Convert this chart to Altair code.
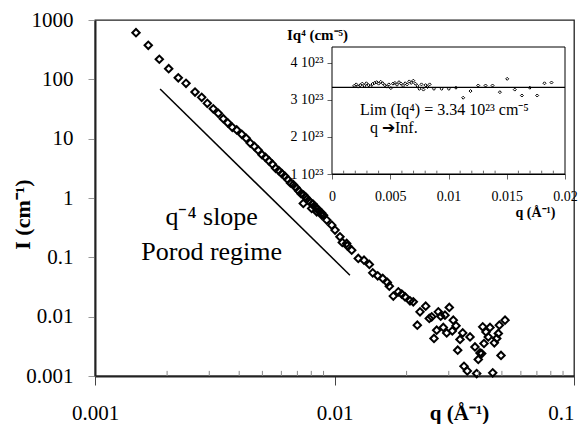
import altair as alt
import pandas as pd

# ---------------- main chart data (q in 1/Angstrom, I in 1/cm) ----------------
q_dense = [0.001483, 0.001669, 0.001856, 0.002031, 0.002227, 0.002399, 0.002616, 0.002789,
           0.002944, 0.003118, 0.003272, 0.003434, 0.003582, 0.003744, 0.003905, 0.00410,
           0.00428, 0.00445, 0.00463, 0.00480, 0.00498, 0.00515, 0.00533, 0.00550, 0.00568,
           0.00585, 0.00603, 0.00620, 0.00638, 0.00655, 0.00673, 0.00690, 0.00708, 0.00725,
           0.00743, 0.00760, 0.00778, 0.00795, 0.00813, 0.00830, 0.00848, 0.00865, 0.00883, 0.00900]
I_dense = [611, 375, 218, 151, 106, 85.6, 61.1, 49.7, 39.4, 31.9, 26.7, 21.7, 18.5, 15.5, 14.0,
           11.85, 10.13, 8.42, 7.40, 6.40, 5.37, 4.83, 4.21, 3.72, 3.17, 2.90, 2.57, 2.33, 2.05,
           1.79, 1.68, 1.50, 1.33, 1.18, 1.12, 1.02, 0.90, 0.84, 0.79, 0.70, 0.66, 0.59, 0.56, 0.51]

q_sparse = [0.00741, 0.00803, 0.00843, 0.00885, 0.00928, 0.00974, 0.01005, 0.01054, 0.01078,
            0.01124, 0.01131, 0.0118, 0.01257, 0.01328, 0.01398, 0.01444, 0.01515, 0.0159,
            0.01662, 0.01694, 0.0176, 0.01847, 0.01909, 0.0197, 0.02066, 0.02133, 0.02217,
            0.02275, 0.02403, 0.02488, 0.02546, 0.02603, 0.02671, 0.02713, 0.02776, 0.02893,
            0.02846, 0.02941, 0.03015, 0.03133, 0.03216, 0.03103, 0.03269, 0.03342, 0.0343,
            0.03473, 0.03585, 0.0368, 0.03859, 0.03923, 0.03984, 0.0405, 0.04157, 0.04209,
            0.04291, 0.04386, 0.04459, 0.04577, 0.04649, 0.04757, 0.04878, 0.04831, 0.04957,
            0.05152, 0.04117]
I_sparse = [0.811, 0.668, 0.585, 0.515, 0.424, 0.349, 0.2876, 0.2216, 0.1783, 0.1716, 0.1563,
            0.1322, 0.0958, 0.0897, 0.0759, 0.0548, 0.0488, 0.0441, 0.0377, 0.0327, 0.0222,
            0.0262, 0.0240, 0.0216, 0.0185, 0.0178, 0.00719, 0.01205, 0.01504, 0.00933, 0.00992,
            0.00429, 0.00592, 0.01205, 0.0102, 0.0106, 0.00657, 0.00533, 0.01429, 0.00873,
            0.0070, 0.00576, 0.00272, 0.00413, 0.00533, 0.00146, 0.00122, 0.00456, 0.00309,
            0.0011, 0.0019, 0.00245, 0.00673, 0.00353, 0.00554, 0.00456, 0.00657, 0.00113,
            0.00362, 0.00429, 0.00719, 0.00521, 0.00222, 0.00873, 0.00239]

# q^-4 guide line
q_line = [0.00187, 0.0116]
I_line = [68.6, 0.050]

# main annotations (anchors in data units)
ann_text = ["q\u207b\u2074 slope", "Porod regime"]
ann_q = [0.00307, 0.00307]
ann_I = [0.349, 0.0897]

# main axes
x_ticks = [0.001, 0.01, 0.1]
y_ticks = [0.001, 0.01, 0.1, 1, 10, 100, 1000]
x_minor = [0.002, 0.003, 0.004, 0.005, 0.006, 0.007, 0.008, 0.009,
           0.02, 0.03, 0.04, 0.05, 0.06, 0.07, 0.08, 0.09]

# ---------------- inset data (Iq^4 in units of 1e23 cm^-5) ----------------
q_in = [0.00190, 0.00208, 0.00225, 0.00243, 0.00260, 0.00278, 0.00295, 0.00313, 0.00330,
        0.00348, 0.00365, 0.00383, 0.00400, 0.00418, 0.00435, 0.00453, 0.00470, 0.00488,
        0.00505, 0.00523, 0.00540, 0.00558, 0.00575, 0.00593, 0.00610, 0.00628, 0.00645,
        0.00663, 0.00680, 0.00698, 0.00715, 0.00733, 0.00750, 0.00768, 0.00785, 0.00803,
        0.00820, 0.00838,
        0.00875, 0.00941, 0.01003, 0.01064, 0.01126, 0.01189, 0.01255, 0.01318, 0.01378,
        0.01441, 0.01504, 0.01569, 0.0163, 0.01698, 0.01761, 0.01824, 0.01884]
iq4_in = [3.38, 3.42, 3.36, 3.40, 3.44, 3.38, 3.45, 3.40, 3.37, 3.43, 3.46, 3.48, 3.44, 3.49,
          3.45, 3.40, 3.36, 3.42, 3.32, 3.44, 3.46, 3.41, 3.48, 3.44, 3.38, 3.45, 3.42, 3.50,
          3.46, 3.52, 3.44, 3.38, 3.30, 3.42, 3.28, 3.40, 3.35, 3.42,
          3.30, 3.30, 3.30, 3.33, 3.06, 3.24, 3.39, 3.39, 3.39, 3.21, 3.57, 3.28, 3.12, 3.33,
          3.12, 3.45, 3.47]
lim_value = 3.34
in_x_domain = [0, 0.02]
in_y_domain = [1, 4.43]
in_x_ticks = [0, 0.005, 0.01, 0.015, 0.02]
in_y_ticks = [1, 2, 3, 4]
in_x_minor = [0.001, 0.002, 0.003, 0.004, 0.006, 0.007, 0.008, 0.009,
              0.011, 0.012, 0.013, 0.014, 0.016, 0.017, 0.018, 0.019]
in_text = ["Lim  (Iq\u2074) = 3.34 10\u00b2\u00b3 cm\u207b\u2075", "q \u2794Inf."]
in_text_q = [0.0024, 0.00326]
in_text_v = [2.587, 2.10]

FONT = "Liberation Serif"

# ---------------- main layer ----------------
df_main = pd.DataFrame({"q": q_dense + q_sparse, "I": I_dense + I_sparse})
df_line = pd.DataFrame({"q": q_line, "I": I_line})
df_ann = pd.DataFrame({"q": ann_q, "I": ann_I, "t": ann_text})
df_minor = pd.DataFrame({"q": x_minor, "I": [0.001] * len(x_minor), "I1": [0.00122] * len(x_minor)})

xs = alt.Scale(type="log", domain=[0.001, 0.1], nice=False)
ys = alt.Scale(type="log", domain=[0.001, 1000], nice=False)

x_axis = alt.Axis(values=x_ticks, format="~g", labelFontSize=21, labelFont=FONT, labelColor="black",
                  labelAlign={"condition": {"test": "datum.value > 0.05", "value": "right"},
                              "value": "center"},
                  tickSize=9, labelPadding=17, tickColor="#444", domainColor="#222", domainWidth=2,
                  labelFlush=False, labelOverlap=False, grid=False,
                  title="q (\u00c5\u207b\u00b9)", titleFont=FONT, titleFontSize=21, titleFontWeight="bold",
                  titleColor="black", titleX=364, titleY=43, titleAlign="center", titleBaseline="alphabetic")
y_axis = alt.Axis(values=y_ticks, format="~g", labelFontSize=21, labelFont=FONT, labelColor="black",
                  tickSize=7, labelPadding=15, tickColor="#999", domainColor="#222", domainWidth=2,
                  labelOverlap=False, grid=False,
                  title="I (cm\u207b\u00b9)", titleFont=FONT, titleFontSize=22, titleFontWeight="bold",
                  titleColor="black", titleAngle=270, titleX=-73, titleY=194, titleAlign="center",
                  titleBaseline="middle")

pts = alt.Chart(df_main).mark_point(shape="diamond", filled=False, color="black", size=55,
                                     strokeWidth=2, opacity=1).encode(
    x=alt.X("q:Q", scale=xs, axis=x_axis),
    y=alt.Y("I:Q", scale=ys, axis=y_axis))
line = alt.Chart(df_line).mark_line(color="black", strokeWidth=1.5).encode(
    x="q:Q", y="I:Q")
ann = alt.Chart(df_ann).mark_text(font=FONT, fontSize=26, color="black", align="center",
                                  baseline="alphabetic").encode(
    x="q:Q", y="I:Q", text="t:N")
minor = alt.Chart(df_minor).mark_rule(color="#888", strokeWidth=1).encode(
    x="q:Q", y="I:Q", y2="I1:Q")

main = alt.layer(pts, line, ann, minor)

# ---------------- inset layer ----------------
df_in = pd.DataFrame({"qi": q_in, "v": iq4_in})
df_frame = pd.DataFrame({"qi": [in_x_domain[0]], "qi2": [in_x_domain[1]],
                         "v": [in_y_domain[0]], "v2": [in_y_domain[1]]})
df_lim = pd.DataFrame({"qi": [in_x_domain[0]], "qi2": [in_x_domain[1]], "v": [lim_value]})
df_in_minor = pd.DataFrame({"qi": in_x_minor, "v": [1.0] * len(in_x_minor), "v2": [1.09] * len(in_x_minor)})
df_in_text = pd.DataFrame({"qi": in_text_q, "v": in_text_v, "t": in_text})

xis = alt.Scale(domain=in_x_domain, range=[237, 470], nice=False, zero=False)
yis = alt.Scale(domain=in_y_domain, range=[154, 27], nice=False, zero=False)

xi_axis = alt.Axis(orient="bottom", offset=-202, values=in_x_ticks, format="~g", labelFontSize=14,
                   labelFont=FONT, labelColor="black", tickSize=5, labelPadding=10, tickColor="#666",
                   domainColor="black", domainWidth=1, labelFlush=False, labelOverlap=False, grid=False,
                   title="q (\u00c5\u207b\u00b9)", titleFont=FONT, titleFontSize=14, titleFontWeight="bold",
                   titleColor="black", titleX=440, titleY=42, titleAlign="center",
                   titleBaseline="alphabetic")
yi_axis = alt.Axis(orient="left", offset=-237, values=in_y_ticks,
                   labelExpr="datum.value + ' 10\u00b2\u00b3'", labelFontSize=14, labelFont=FONT,
                   labelColor="black", tickSize=5, labelPadding=4, tickColor="#666",
                   domainColor="black", domainWidth=1, labelOverlap=False, grid=False,
                   title="Iq\u2074 (cm\u207b\u2075)", titleFont=FONT, titleFontSize=15,
                   titleFontWeight="bold", titleColor="black", titleAngle=0, titleX=-15, titleY=14,
                   titleAlign="center", titleBaseline="middle")

frame = alt.Chart(df_frame).mark_rect(fill="white", stroke="black", strokeWidth=1).encode(
    x=alt.X("qi:Q", scale=xis, axis=xi_axis), x2="qi2:Q",
    y=alt.Y("v:Q", scale=yis, axis=yi_axis), y2="v2:Q")
lim = alt.Chart(df_lim).mark_rule(color="black", strokeWidth=1.3).encode(
    x="qi:Q", x2="qi2:Q", y="v:Q")
in_minor = alt.Chart(df_in_minor).mark_rule(color="#666", strokeWidth=1).encode(
    x="qi:Q", y="v:Q", y2="v2:Q")
in_pts = alt.Chart(df_in).mark_point(shape="diamond", filled=False, color="black", size=9,
                                     strokeWidth=1, opacity=1).encode(
    x="qi:Q", y="v:Q")
in_txt = alt.Chart(df_in_text).mark_text(font=FONT, fontSize=16, color="black", align="left",
                                         baseline="alphabetic").encode(
    x="qi:Q", y="v:Q", text="t:N")

inset = alt.layer(frame, lim, in_minor, in_pts, in_txt)

chart = alt.layer(main, inset).resolve_scale(
    x="independent", y="independent"
).resolve_axis(
    x="independent", y="independent"
).properties(
    width=479, height=356,
    padding={"left": 87, "top": 12, "right": 6, "bottom": 48},
    autosize=alt.AutoSizeParams(type="none"),
    background="white",
).configure_view(stroke="#222", strokeWidth=1.3)

chart.save("out.html", embed_options={"renderer": "svg", "actions": False})
